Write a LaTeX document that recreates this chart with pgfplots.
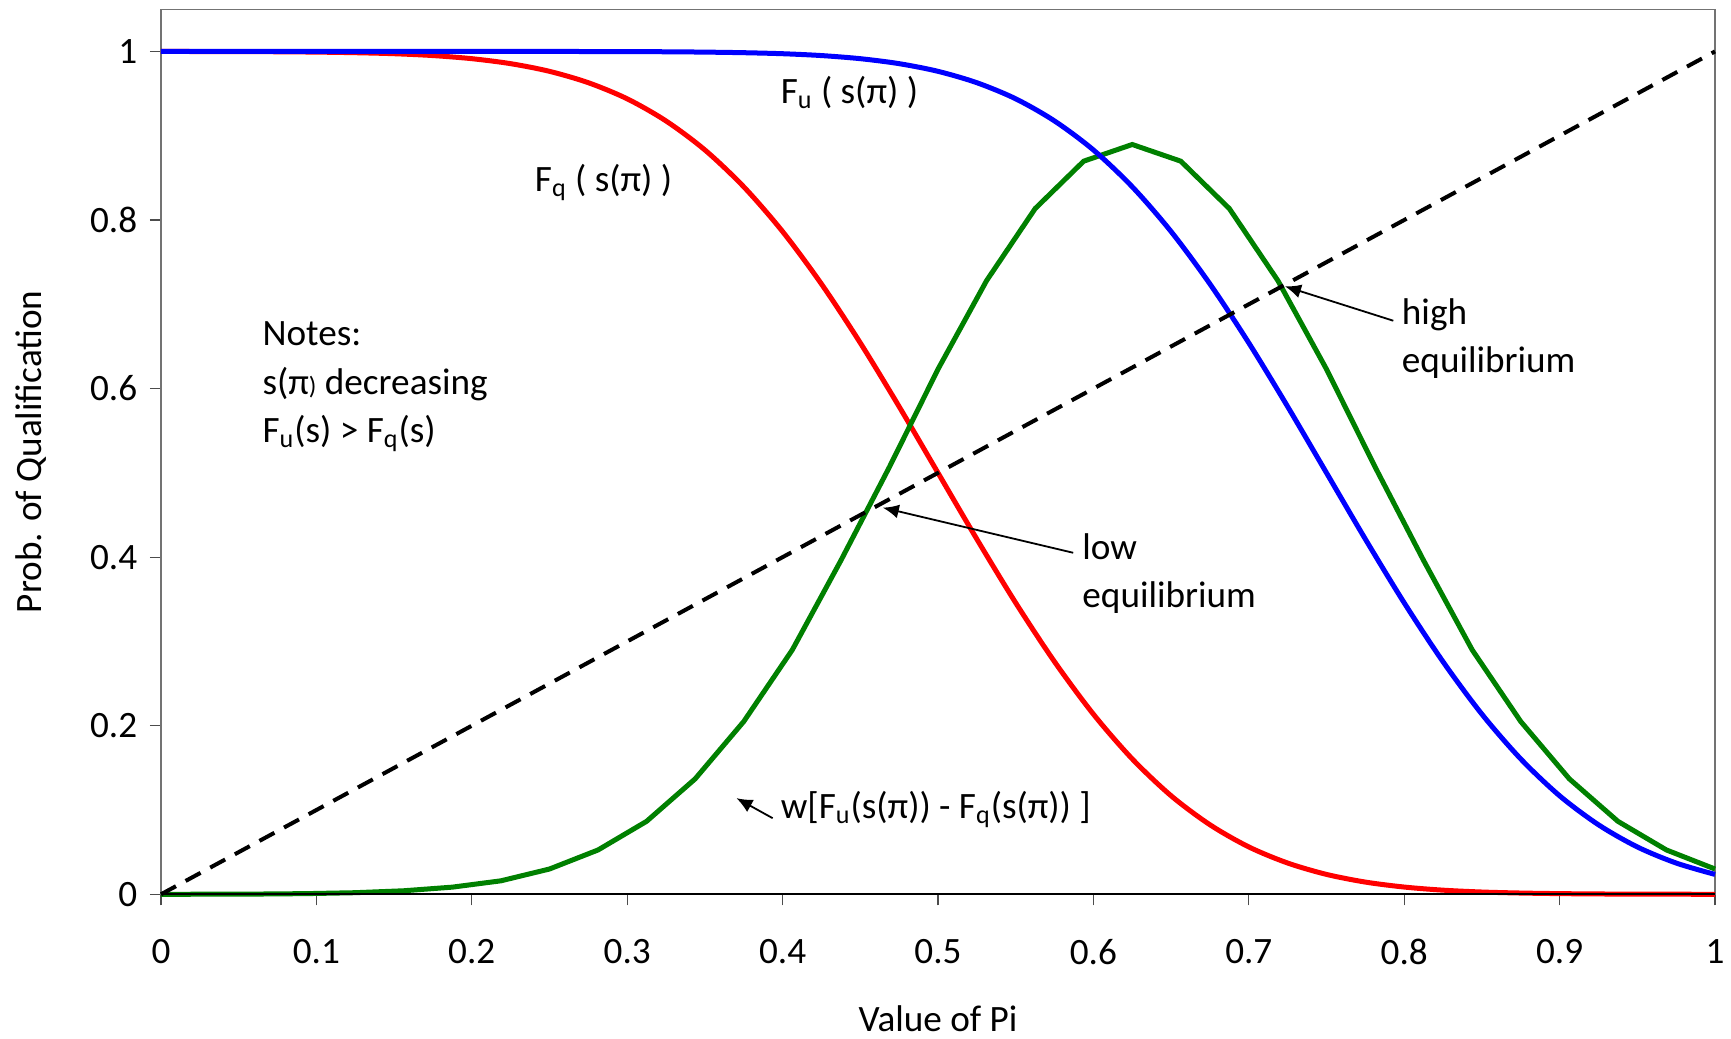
\documentclass[border=0pt]{standalone}
\usepackage{pgfplots}
\pgfplotsset{compat=1.18}
\usepackage{pgfplotstable}
\usepackage{fontspec}
\setmainfont{Carlito}
\usetikzlibrary{arrows.meta}

\pgfplotstableread{
x y
0.000 1.0000
0.025 0.9999
0.050 0.9998
0.075 0.9996
0.100 0.9992
0.125 0.9985
0.150 0.9973
0.175 0.9951
0.200 0.9914
0.225 0.9855
0.250 0.9764
0.275 0.9629
0.300 0.9438
0.325 0.9175
0.350 0.8831
0.375 0.8394
0.400 0.7863
0.425 0.7241
0.450 0.6542
0.475 0.5786
0.500 0.5000
0.525 0.4214
0.550 0.3458
0.575 0.2759
0.600 0.2137
0.625 0.1606
0.650 0.1169
0.675 0.0825
0.700 0.0562
0.725 0.0371
0.750 0.0236
0.775 0.0145
0.800 0.0086
0.825 0.0049
0.850 0.0027
0.875 0.0015
0.900 0.0008
0.925 0.0004
0.950 0.0002
0.975 0.0001
1.000 0.0000
}\redtable

\pgfplotstableread{
x y
0.000 1.0000
0.050 1.0000
0.100 1.0000
0.150 1.0000
0.200 1.0000
0.225 1.0000
0.250 1.0000
0.275 0.9999
0.300 0.9998
0.325 0.9996
0.350 0.9992
0.375 0.9985
0.400 0.9973
0.425 0.9951
0.450 0.9914
0.475 0.9855
0.500 0.9764
0.525 0.9629
0.550 0.9438
0.575 0.9175
0.600 0.8831
0.625 0.8394
0.650 0.7863
0.675 0.7241
0.700 0.6542
0.725 0.5786
0.750 0.5000
0.775 0.4214
0.800 0.3458
0.825 0.2759
0.850 0.2137
0.875 0.1606
0.900 0.1169
0.925 0.0825
0.950 0.0562
0.975 0.0371
1.000 0.0236
}\bluetable

\pgfplotstableread{
x y
0.00000 0.0000
0.03125 0.0001
0.06250 0.0003
0.09375 0.0008
0.12500 0.0019
0.15625 0.0042
0.18750 0.0085
0.21875 0.0160
0.25000 0.0300
0.28125 0.0526
0.31250 0.0866
0.34375 0.1370
0.37500 0.2050
0.40625 0.2900
0.43750 0.3960
0.46875 0.5070
0.50000 0.6230
0.53125 0.7280
0.56250 0.8135
0.59375 0.8698
0.62500 0.8896
0.65625 0.8698
0.68750 0.8135
0.71875 0.7280
0.75000 0.6230
0.78125 0.5070
0.81250 0.3960
0.84375 0.2900
0.87500 0.2050
0.90625 0.1370
0.93750 0.0866
0.96875 0.0526
1.00000 0.0300
}\greentable

\definecolor{xlgreen}{RGB}{0,128,0}

\begin{document}
\fontsize{18.6}{22}\selectfont
\begin{tikzpicture}
\begin{axis}[
  scale only axis,
  width=777pt, height=442.5pt,
  xmin=0, xmax=1, ymin=0, ymax=1.05,
  clip=false,
  axis line style={black!55, line width=0.7pt},
  xtick={0,0.1,0.2,0.3,0.4,0.5,0.6,0.7,0.8,0.9,1},
  xticklabels={0,0.1,0.2,0.3,0.4,0.5,0.6,0.7,0.8,0.9,1},
  ytick={0,0.2,0.4,0.6,0.8,1},
  yticklabels={0,0.2,0.4,0.6,0.8,1},
  tick align=outside, tick pos=left,
  major tick length=5.5pt,
  tick style={black!70, line width=0.6pt},
  /pgf/number format/assume math mode=true,
  xticklabel style={font=\fontsize{18.6}{22}\selectfont, anchor=north, yshift=-10.5pt},
  yticklabel style={font=\fontsize{18.6}{22}\selectfont, anchor=east},
  xlabel={Value of Pi},
  ylabel={Prob. of Qualification},
  xlabel style={font=\fontsize{18.6}{22}\selectfont, at={(axis description cs:0.5,0)}, anchor=center, yshift=-62pt},
  ylabel style={font=\fontsize{18.6}{22}\selectfont, at={([xshift=-65pt]axis description cs:0,0.5)}, anchor=center},
]
\addplot[red, line width=2.5pt, smooth] table[x=x, y=y] {\redtable};
\addplot[xlgreen, line width=2.5pt] table[x=x, y=y] {\greentable};
\addplot[blue, line width=2.5pt, smooth] table[x=x, y=y] {\bluetable};
\addplot[black, line width=2pt, dash pattern=on 8.5pt off 5.5pt] coordinates {(0,0) (1,1)};

\draw[black, line width=1pt] (axis cs:0,0) -- (axis cs:1,0);

\node[anchor=base west, inner sep=0pt] at (axis cs:0.2404,0.8338) {F\textsubscript{q} ( s(π) )};
\node[anchor=base west, inner sep=0pt] at (axis cs:0.3986,0.9379) {F\textsubscript{u} ( s(π) )};

\node[anchor=base west, inner sep=0pt] at (axis cs:0.0651,0.6507) {Notes:};
\node[anchor=base west, inner sep=0pt] at (axis cs:0.0651,0.5933) {s(π{\fontsize{12.5}{12.5}\selectfont)} decreasing};
\node[anchor=base west, inner sep=0pt] at (axis cs:0.0651,0.5360) {F\textsubscript{u}(s) > F\textsubscript{q}(s)};

\node[anchor=base west, inner sep=0pt] at (axis cs:0.7983,0.6765) {high};
\node[anchor=base west, inner sep=0pt] at (axis cs:0.7983,0.6195) {equilibrium};
\draw[-{Latex[length=8pt,width=7pt]}, line width=0.9pt] (axis cs:0.793,0.6805) -- (axis cs:0.7233,0.7213);

\node[anchor=base west, inner sep=0pt] at (axis cs:0.5927,0.3973) {low};
\node[anchor=base west, inner sep=0pt] at (axis cs:0.5927,0.3399) {equilibrium};
\draw[-{Latex[length=8pt,width=7pt]}, line width=0.9pt] (axis cs:0.587,0.4052) -- (axis cs:0.4645,0.4587);

\node[anchor=base west, inner sep=0pt] at (axis cs:0.3986,0.0903) {w[F\textsubscript{u}(s(π)) - F\textsubscript{q}(s(π)) ]};
\draw[-{Latex[length=8pt,width=7pt]}, line width=0.9pt] (axis cs:0.3936,0.0903) -- (axis cs:0.3703,0.1141);
\end{axis}
\pgfresetboundingbox
\path[use as bounding box] ([shift={(-80.5pt,-72.35pt)}]current axis.south west) rectangle ([shift={(8pt,4.65pt)}]current axis.north east);
\end{tikzpicture}
\end{document}
